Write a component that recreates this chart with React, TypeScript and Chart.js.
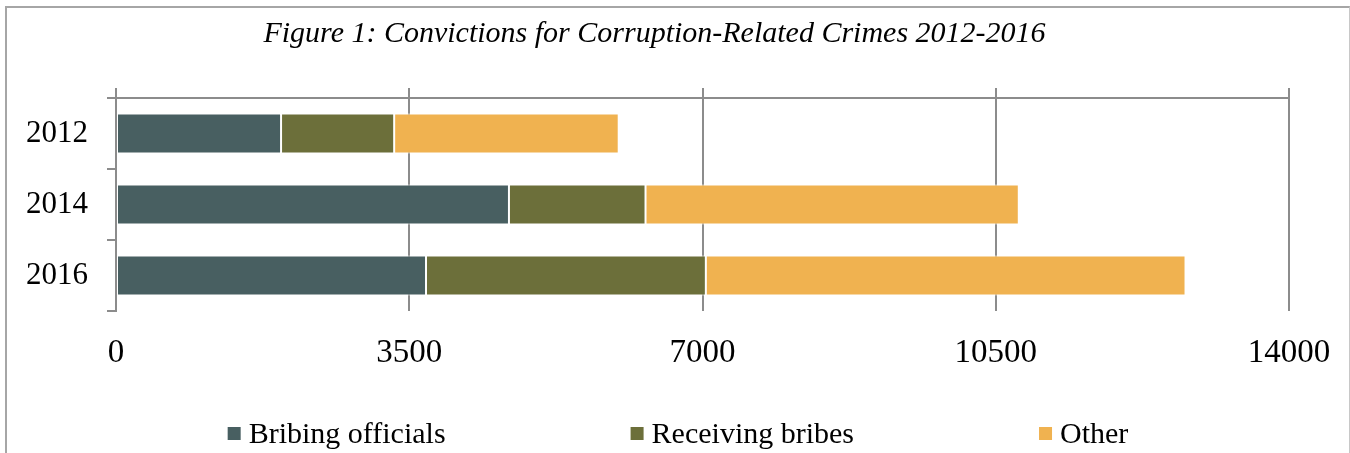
import React, { useEffect, useRef } from "react";
import { Chart, registerables } from "chart.js";

Chart.register(...registerables);

// ---- Data ----
const categories = ["2012", "2014", "2016"];
const seriesNames = ["Bribing officials", "Receiving bribes", "Other"];
const bribingOfficials = [1970, 4690, 3700];
const receivingBribes = [1350, 1630, 3340];
const otherCrimes = [2680, 4455, 5725];
const xTickValues = [0, 3500, 7000, 10500, 14000];
const titleText = "Figure 1: Convictions for Corruption-Related Crimes 2012-2016";

const seriesColors = ["#485F61", "#6C6F3A", "#F0B250"];
const GRID = "#8C8C8C";
const FONT = "'Liberation Serif', 'Times New Roman', serif";

const legendPlugin = {
  id: "customLegend",
  afterDraw(chart: any) {
    const ctx = chart.ctx as CanvasRenderingContext2D;
    ctx.save();
    ctx.font = `30px ${FONT}`;
    const box = 13;
    const gapBox = 8;
    const gapItem = 185;
    const items = chart.data.datasets.map((ds: any) => ({
      label: ds.label as string,
      color: ds.backgroundColor as string,
      w: box + gapBox + ctx.measureText(ds.label).width,
    }));
    const total =
      items.reduce((s: number, it: any) => s + it.w, 0) + gapItem * (items.length - 1);
    let x = 678 - total / 2;
    ctx.textBaseline = "alphabetic";
    ctx.textAlign = "left";
    for (const it of items) {
      ctx.fillStyle = it.color;
      ctx.fillRect(x, 427, box, box);
      ctx.fillStyle = "#000";
      ctx.fillText(it.label, x + box + gapBox, 443);
      x += it.w + gapItem;
    }
    ctx.restore();
  },
};

export default function App() {
  const canvasRef = useRef<HTMLCanvasElement | null>(null);

  useEffect(() => {
    if (!canvasRef.current) return;
    const step = xTickValues[1] - xTickValues[0];
    const xMin = xTickValues[0];
    const xMax = xTickValues[xTickValues.length - 1];
    const values = [bribingOfficials, receivingBribes, otherCrimes];
    const chart = new Chart(canvasRef.current, {
      type: "bar",
      data: {
        labels: categories,
        datasets: seriesNames.map((name, i) => ({
          label: name,
          data: values[i],
          backgroundColor: seriesColors[i],
          borderColor: "#FFFFFF",
          borderWidth: 1,
          borderSkipped: false,
          barPercentage: 0.565,
          categoryPercentage: 1,
          xAxisID: "x",
        })),
      },
      options: {
        indexAxis: "y",
        responsive: false,
        animation: false,
        layout: { padding: { left: 20, right: 61, top: 0, bottom: 0 } },
        plugins: {
          legend: { display: false },
          tooltip: { enabled: false },
          title: {
            display: true,
            text: titleText,
            color: "#000",
            font: { family: FONT, size: 30, style: "italic", weight: "normal" },
            padding: { top: 16, bottom: 36 },
          },
        },
        scales: {
          x: {
            type: "linear",
            position: "bottom",
            stacked: true,
            min: xMin,
            max: xMax,
            afterFit(scale: any) {
              scale.height = 142;
              scale.paddingLeft = 0;
              scale.paddingRight = 0;
            },
            ticks: {
              stepSize: step,
              color: "#000",
              font: { family: FONT, size: 33 },
              padding: 23,
              callback: (v: any) => String(v),
            },
            grid: {
              color: GRID,
              lineWidth: 2,
              drawTicks: false,
            },
            border: { display: false },
          },
          x2: {
            type: "linear",
            position: "top",
            display: true,
            min: xMin,
            max: xMax,
            afterFit(scale: any) {
              scale.height = 10;
              scale.paddingLeft = 0;
              scale.paddingRight = 0;
            },
            ticks: { display: false, stepSize: step },
            grid: {
              color: GRID,
              lineWidth: 2,
              drawOnChartArea: false,
              drawTicks: true,
              tickLength: 10,
            },
            border: { display: true, color: GRID, width: 2 },
          },
          y: {
            type: "category",
            stacked: true,
            offset: true,
            afterFit(scale: any) {
              scale.width = 96;
            },
            ticks: {
              color: "#000",
              font: { family: FONT, size: 31 },
              padding: 19,
            },
            grid: {
              offset: true,
              color: GRID,
              lineWidth: 2,
              drawOnChartArea: false,
              drawTicks: true,
              tickLength: 9,
            },
            border: { display: true, color: GRID, width: 2 },
          },
        },
      },
      plugins: [legendPlugin],
    } as any);
    return () => chart.destroy();
  }, []);

  return (
    <div
      style={{
        position: "fixed",
        left: 0,
        top: 0,
        width: 1350,
        height: 453,
        background: "#fff",
        overflow: "hidden",
      }}
    >
      <canvas
        ref={canvasRef}
        width={1350}
        height={453}
        style={{ position: "absolute", left: 0, top: 0, width: 1350, height: 453 }}
      />
      <div
        style={{
          position: "absolute",
          left: 5,
          top: 6,
          width: 1345,
          height: 480,
          boxSizing: "border-box",
          borderTop: "2px solid #A6A6A6",
          borderLeft: "2px solid #A6A6A6",
          borderRight: "1px solid #C8C8C8",
          pointerEvents: "none",
        }}
      />
    </div>
  );
}
